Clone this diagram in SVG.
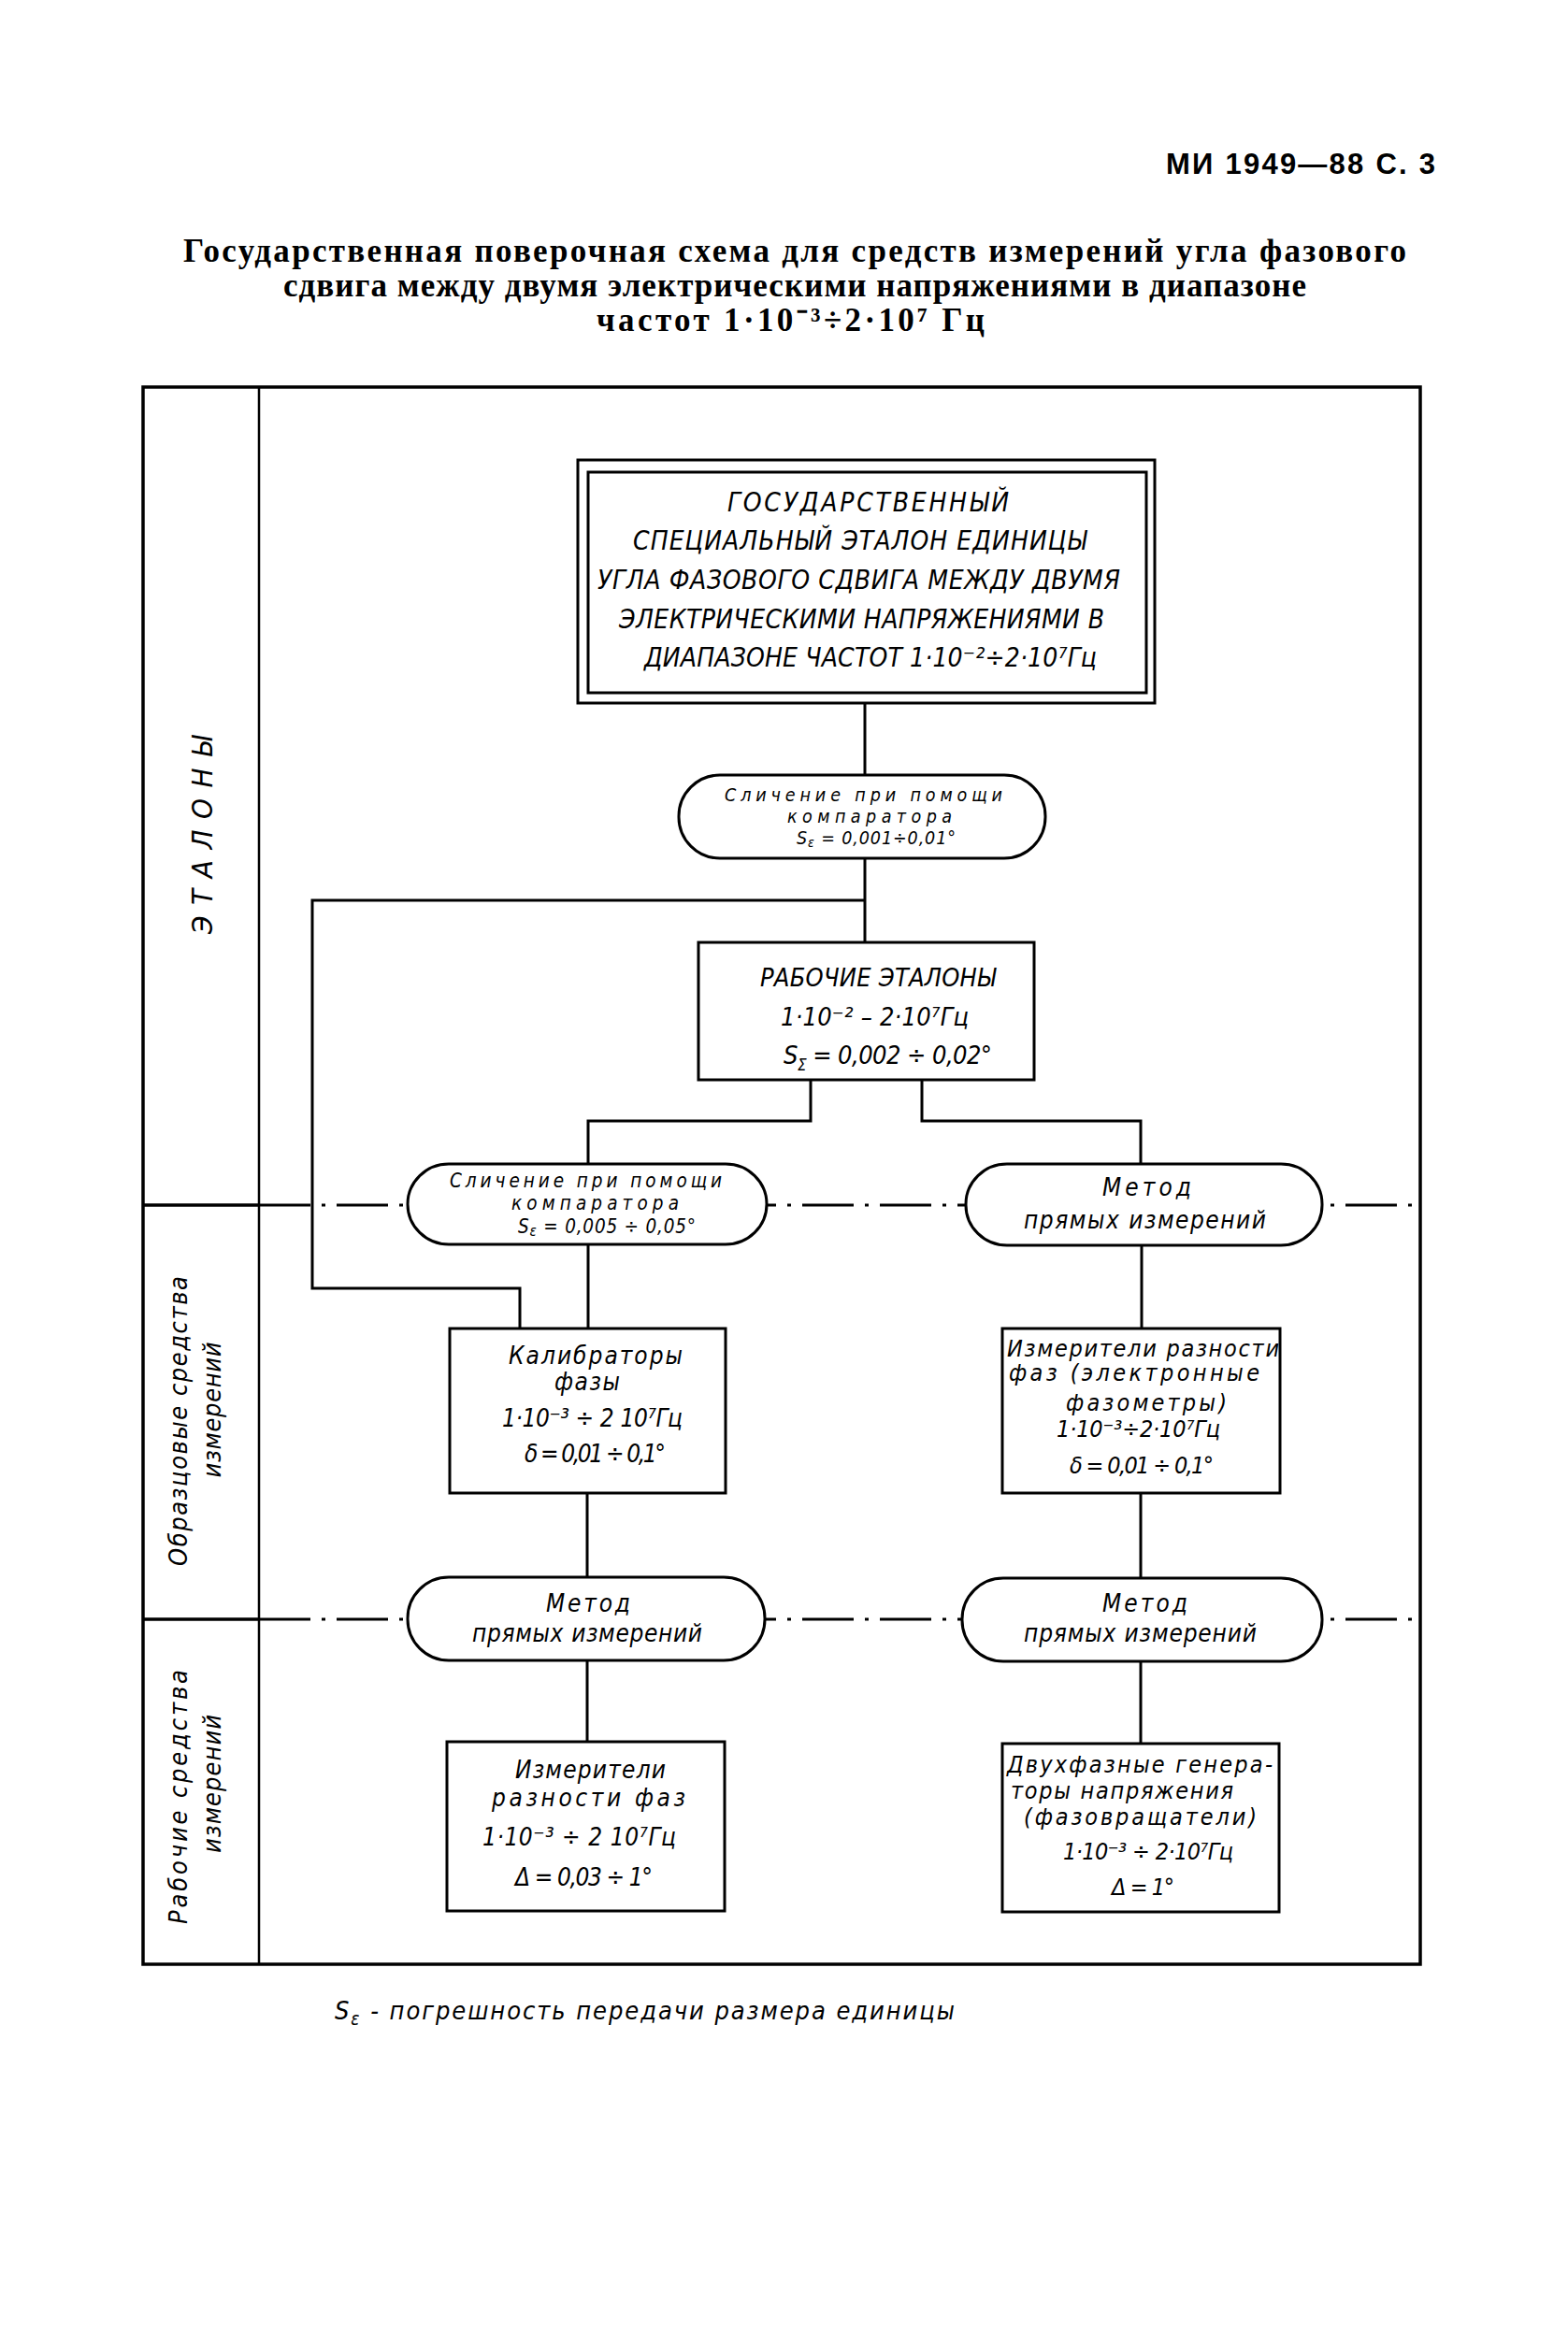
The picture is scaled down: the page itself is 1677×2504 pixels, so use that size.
<svg xmlns="http://www.w3.org/2000/svg" width="1677" height="2504" viewBox="0 0 1677 2504">
<style>
.bg{fill:#fff}
.frame{fill:none;stroke:#000;stroke-width:3.5}
.thin{fill:none;stroke:#000;stroke-width:2.5}
.dd{fill:none;stroke:#000;stroke-width:3;stroke-dasharray:55 12 4 12}
.box{fill:#fff;stroke:#000;stroke-width:3}
.conn{fill:none;stroke:#000;stroke-width:3}
.t{font-family:'DejaVu Sans Condensed','DejaVu Sans',sans-serif;font-style:italic;fill:#000}
.h{font-family:'Liberation Serif',serif;font-weight:bold;fill:#000}
.hs{font-family:'Liberation Sans',sans-serif;font-weight:bold;fill:#000}
</style>
<rect class="bg" x="0" y="0" width="1677" height="2504"/>

<g id="header">
<text class="hs" x="1247" y="186" font-size="31" textLength="288" lengthAdjust="spacing">МИ 1949—88 С. 3</text>
<text class="h" x="196" y="280" font-size="35" textLength="1308" lengthAdjust="spacing">Государственная поверочная схема для средств измерений угла фазового</text>
<text class="h" x="303" y="317" font-size="35" textLength="1094" lengthAdjust="spacing">сдвига между двумя электрическими напряжениями в диапазоне</text>
<text class="h" x="638" y="354" font-size="35" textLength="415" lengthAdjust="spacing">частот 1·10⁻³÷2·10⁷ Гц</text>
</g>

<g id="frame">
<rect class="frame" x="153" y="414" width="1366" height="1687"/>
<line class="thin" x1="277" y1="414" x2="277" y2="2101"/>
<line class="frame" x1="153" y1="1289" x2="277" y2="1289"/>
<line class="frame" x1="153" y1="1732" x2="277" y2="1732"/>
<line class="dd" x1="277" y1="1289" x2="1519" y2="1289"/>
<line class="dd" x1="277" y1="1732" x2="1519" y2="1732"/>
</g>

<g id="section-labels">
<text class="t" transform="translate(227,893) rotate(-90)" font-size="31" text-anchor="middle" textLength="212" lengthAdjust="spacing">Э Т А Л О Н Ы</text>
<text class="t" transform="translate(200,1520) rotate(-90)" font-size="27" text-anchor="middle" textLength="310" lengthAdjust="spacing">Образцовые средства</text>
<text class="t" transform="translate(236,1508) rotate(-90)" font-size="27" text-anchor="middle" textLength="145" lengthAdjust="spacing">измерений</text>
<text class="t" transform="translate(200,1922) rotate(-90)" font-size="27" text-anchor="middle" textLength="272" lengthAdjust="spacing">Рабочие средства</text>
<text class="t" transform="translate(236,1908) rotate(-90)" font-size="27" text-anchor="middle" textLength="148" lengthAdjust="spacing">измерений</text>
</g>

<g id="connectors">
<path class="conn" d="M925 752 V829"/>
<path class="conn" d="M925 918 V1008"/>
<path class="conn" d="M925 963 H334 V1378 H556 V1421"/>
<path class="conn" d="M867 1155 V1199 H629 V1245"/>
<path class="conn" d="M986 1155 V1199 H1220 V1245"/>
<path class="conn" d="M629 1331 V1421"/>
<path class="conn" d="M1221 1332 V1421"/>
<path class="conn" d="M628 1597 V1687"/>
<path class="conn" d="M1220 1597 V1688"/>
<path class="conn" d="M628 1776 V1863"/>
<path class="conn" d="M1220 1777 V1865"/>
</g>

<g id="node-state-standard">
<rect class="box" x="618" y="492" width="617" height="260"/>
<rect class="box" x="629" y="505" width="597" height="236" stroke-width="3.5"/>
<text class="t" x="778" y="547" font-size="28" textLength="301" lengthAdjust="spacing">ГОСУДАРСТВЕННЫЙ</text>
<text class="t" x="677" y="588" font-size="28" textLength="485" lengthAdjust="spacing">СПЕЦИАЛЬНЫЙ ЭТАЛОН ЕДИНИЦЫ</text>
<text class="t" x="639" y="630" font-size="28" textLength="559" lengthAdjust="spacing">УГЛА ФАЗОВОГО СДВИГА МЕЖДУ ДВУМЯ</text>
<text class="t" x="662" y="672" font-size="28" textLength="519" lengthAdjust="spacing">ЭЛЕКТРИЧЕСКИМИ НАПРЯЖЕНИЯМИ В</text>
<text class="t" x="689" y="713" font-size="28" textLength="484" lengthAdjust="spacing">ДИАПАЗОНЕ ЧАСТОТ 1·10⁻²÷2·10⁷Гц</text>
</g>

<g id="node-comparator-1">
<rect class="box" x="726" y="829" width="392" height="89" rx="44" ry="44"/>
<text class="t" x="775" y="857" font-size="19.5" textLength="297" lengthAdjust="spacing">Сличение при помощи</text>
<text class="t" x="842" y="880" font-size="19.5" textLength="176" lengthAdjust="spacing">компаратора</text>
<text class="t" x="852" y="903" font-size="19.5" textLength="170" lengthAdjust="spacing">S<tspan font-size="14" dy="3">ε</tspan><tspan dy="-3"> = 0,001÷0,01°</tspan></text>
</g>

<g id="node-working-standards">
<rect class="box" x="747" y="1008" width="359" height="147"/>
<text class="t" x="813" y="1055" font-size="27" textLength="252" lengthAdjust="spacing">РАБОЧИЕ ЭТАЛОНЫ</text>
<text class="t" x="835" y="1097" font-size="27" textLength="201" lengthAdjust="spacing">1·10⁻² – 2·10⁷Гц</text>
<text class="t" x="838" y="1138" font-size="27" textLength="223" lengthAdjust="spacing">S<tspan font-size="17" dy="7">Σ</tspan><tspan dy="-7"> = 0,002 ÷ 0,02°</tspan></text>
</g>

<g id="node-comparator-2">
<rect class="box" x="436" y="1245" width="384" height="86" rx="44" ry="43"/>
<text class="t" x="481" y="1270" font-size="20.5" textLength="291" lengthAdjust="spacing">Сличение при помощи</text>
<text class="t" x="547" y="1294" font-size="20.5" textLength="179" lengthAdjust="spacing">компаратора</text>
<text class="t" x="554" y="1319" font-size="20.5" textLength="190" lengthAdjust="spacing">S<tspan font-size="15" dy="3">ε</tspan><tspan dy="-3"> = 0,005 ÷ 0,05°</tspan></text>
</g>

<g id="node-direct-1">
<rect class="box" x="1033" y="1245" width="381" height="87" rx="44" ry="43"/>
<text class="t" x="1179" y="1279" font-size="26" textLength="95" lengthAdjust="spacing">Метод</text>
<text class="t" x="1095" y="1314" font-size="26" textLength="259" lengthAdjust="spacing">прямых измерений</text>
</g>

<g id="node-calibrators">
<rect class="box" x="481" y="1421" width="295" height="176"/>
<text class="t" x="544" y="1459" font-size="26" textLength="186" lengthAdjust="spacing">Калибраторы</text>
<text class="t" x="593" y="1487" font-size="26" textLength="70" lengthAdjust="spacing">фазы</text>
<text class="t" x="537" y="1526" font-size="26" textLength="193" lengthAdjust="spacing">1·10⁻³ ÷ 2 10⁷Гц</text>
<text class="t" x="561" y="1564" font-size="26" textLength="151" lengthAdjust="spacing">δ = 0,01 ÷ 0,1°</text>
</g>

<g id="node-phasemeters">
<rect class="box" x="1072" y="1421" width="297" height="176"/>
<text class="t" x="1077" y="1451" font-size="25" textLength="291" lengthAdjust="spacing">Измерители разности</text>
<text class="t" x="1079" y="1477" font-size="25" textLength="268" lengthAdjust="spacing">фаз (электронные</text>
<text class="t" x="1140" y="1509" font-size="25" textLength="172" lengthAdjust="spacing">фазометры)</text>
<text class="t" x="1130" y="1537" font-size="25" textLength="175" lengthAdjust="spacing">1·10⁻³÷2·10⁷Гц</text>
<text class="t" x="1144" y="1576" font-size="25" textLength="154" lengthAdjust="spacing">δ = 0,01 ÷ 0,1°</text>
</g>

<g id="node-direct-2">
<rect class="box" x="436" y="1687" width="382" height="89" rx="44" ry="44"/>
<text class="t" x="584" y="1724" font-size="26" textLength="90" lengthAdjust="spacing">Метод</text>
<text class="t" x="505" y="1756" font-size="26" textLength="246" lengthAdjust="spacing">прямых измерений</text>
</g>

<g id="node-direct-3">
<rect class="box" x="1029" y="1688" width="385" height="89" rx="44" ry="44"/>
<text class="t" x="1179" y="1724" font-size="26" textLength="91" lengthAdjust="spacing">Метод</text>
<text class="t" x="1095" y="1756" font-size="26" textLength="249" lengthAdjust="spacing">прямых измерений</text>
</g>

<g id="node-phase-meters">
<rect class="box" x="478" y="1863" width="297" height="181"/>
<text class="t" x="551" y="1902" font-size="26" textLength="161" lengthAdjust="spacing">Измерители</text>
<text class="t" x="526" y="1932" font-size="26" textLength="207" lengthAdjust="spacing">разности фаз</text>
<text class="t" x="516" y="1974" font-size="26" textLength="207" lengthAdjust="spacing">1·10⁻³ ÷ 2 10⁷Гц</text>
<text class="t" x="551" y="2017" font-size="26" textLength="147" lengthAdjust="spacing">Δ = 0,03 ÷ 1°</text>
</g>

<g id="node-generators">
<rect class="box" x="1072" y="1865" width="296" height="180"/>
<text class="t" x="1077" y="1896" font-size="25" textLength="284" lengthAdjust="spacing">Двухфазные генера-</text>
<text class="t" x="1081" y="1924" font-size="25" textLength="238" lengthAdjust="spacing">торы напряжения</text>
<text class="t" x="1095" y="1952" font-size="25" textLength="249" lengthAdjust="spacing">(фазовращатели)</text>
<text class="t" x="1137" y="1989" font-size="25" textLength="182" lengthAdjust="spacing">1·10⁻³ ÷ 2·10⁷Гц</text>
<text class="t" x="1189" y="2027" font-size="25" textLength="67" lengthAdjust="spacing">Δ = 1°</text>
</g>

<g id="footnote">
<text class="t" x="358" y="2160" font-size="27" textLength="663" lengthAdjust="spacing">S<tspan font-size="19" dy="6">ε</tspan><tspan dy="-6"> - погрешность передачи размера единицы</tspan></text>
</g>
</svg>
